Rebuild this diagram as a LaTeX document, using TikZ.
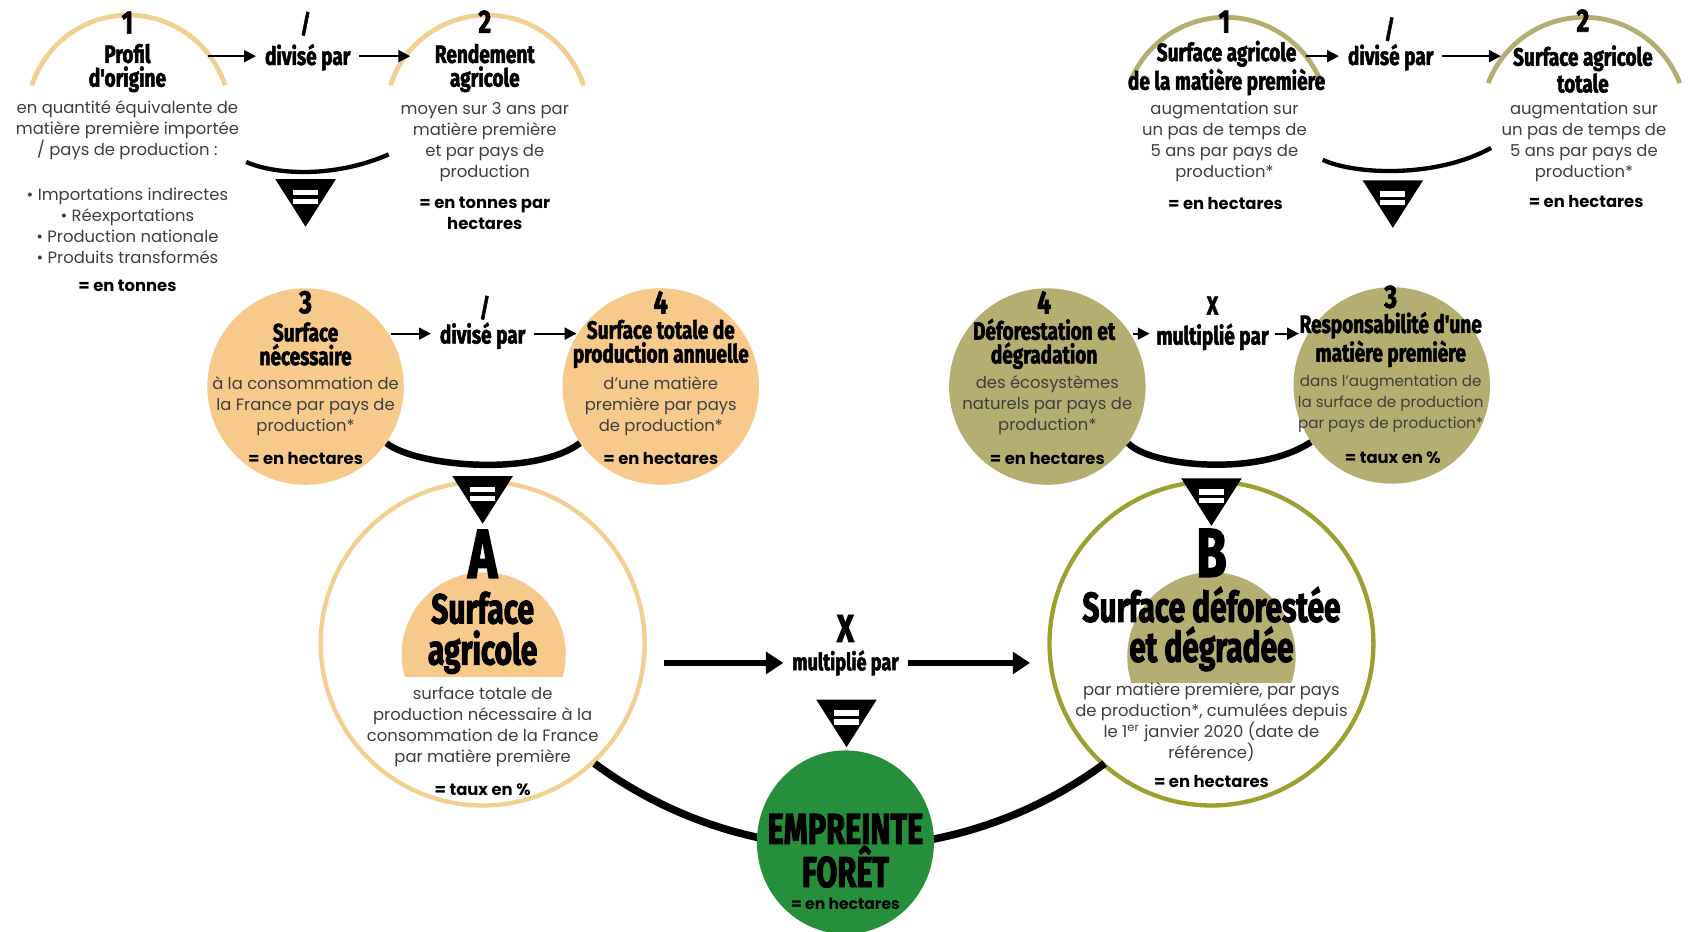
\documentclass[tikz,border=0pt]{standalone}
\usepackage{fontspec}
\setmainfont{Poppins}
\newfontfamily\headfont{Fira Sans}[FakeStretch=0.76, BoldFeatures={FakeBold=2}]
\newfontfamily\bighead{Fira Sans}[FakeStretch=0.71, BoldFeatures={FakeBold=2.2}]
\usetikzlibrary{arrows.meta,shapes.geometric}
\definecolor{sable}{RGB}{243,208,145}
\definecolor{sablefill}{RGB}{247,202,140}
\definecolor{olive}{RGB}{180,174,112}
\definecolor{olivedark}{RGB}{155,160,48}
\definecolor{foret}{RGB}{38,143,60}
\definecolor{gristexte}{RGB}{62,62,62}
\tikzset{
  eqtri/.pic={
    \fill (-28,0) -- (28,0) -- (0,-44) -- cycle;
    \fill[white] (-11.5,-10) rectangle (11.5,-15);
    \fill[white] (-11.5,-18) rectangle (11.5,-23);
  }
}
\begin{document}
\begin{tikzpicture}[x=0.5pt,y=0.5pt,yscale=-1,xscale=1,
  body/.style={font=\fontsize{7.6}{9.75}\selectfont, text=gristexte, align=center, inner sep=0pt},
  unit/.style={font=\bfseries\fontsize{7.6}{9.75}\selectfont, align=center, inner sep=0pt},
  head/.style={font=\headfont\bfseries\fontsize{11.6}{11}\selectfont, align=center, inner sep=0pt},
  num/.style={font=\headfont\bfseries\fontsize{15}{15}\selectfont, inner sep=0pt},
  slash/.style={font=\headfont\bfseries\fontsize{12}{12}\selectfont, inner sep=0pt},
  arr/.style={-{Triangle[length=5.5pt,width=5.5pt]}, line width=1pt},
  bigarr/.style={-{Triangle[length=8pt,width=10pt]}, line width=2.5pt},
  bowl/.style={line width=2pt},
  disc/.style={circle, minimum size=91pt, inner sep=0pt},
  ring/.style={circle, minimum size=150pt, inner sep=0pt, line width=2pt, fill=white}
]
\useasboundingbox (0,0) rectangle (1568,863);

%Shape: Arc
\draw[sable, line width=2.2pt] (119,108) ++(-18:94) arc[start angle=-18, end angle=-162, radius=94];
\draw[sable, line width=2.2pt] (451,108) ++(-18:94) arc[start angle=-18, end angle=-162, radius=94];
\draw[olive, line width=2.2pt] (1135,111) ++(-21:95) arc[start angle=-21, end angle=-159, radius=95];
\draw[olive, line width=2.2pt] (1467,111) ++(-21:95) arc[start angle=-21, end angle=-159, radius=95];

% Text Node
\draw (118,21) node (n1) [num] {1};
\draw (118,63) node (h1) [head] {Profil\\d'origine};
\draw (118,121) node (b1) [body] {en quantité équivalente de\\matière première importée\\/ pays de production :};
\draw (118,209) node (bl) [body] {• Importations indirectes\\• Réexportations\\• Production nationale\\• Produits transformés};
\draw (118,265) node (u1) [unit] {= en tonnes};
\draw (283,22) node (sl1) [slash] {/};
\draw (285,53) node (d1) [head] {divisé par};
\draw (449,20) node (n2) [num] {2};
\draw (449,63) node (h2) [head] {Rendement\\agricole};
\draw (449,131.5) node (b2) [body] {moyen sur 3 ans par\\matière première\\et par pays de\\production};
\draw (449,197.5) node (u2) [unit] {= en tonnes par\\hectares};

\coordinate (p1) at (193,52);
\coordinate (q1) at (380,52);
\draw[arr] (p1) -- (d1.west |- p1) [shorten >=4pt];
\draw[arr] (d1.east |- q1) -- (q1) [shorten <=4pt];

%Shape: Bowl
\coordinate (bw1a) at (228,150);
\coordinate (bw1b) at (360,143);
\draw[bowl] (bw1a) .. controls (255,162) and (310,165) .. (bw1b);
\pic at (283,166) {eqtri};

% Text Node
\draw (1134,20) node (n1r) [num] {1};
\draw (1136,63) node (h1r) [head] {Surface agricole\\de la matière première};
\draw (1134,131.5) node (b1r) [body] {augmentation sur\\un pas de temps de\\5 ans par pays de\\production*};
\draw (1135,188) node (u1r) [unit] {= en hectares};
\draw (1287,27) node (sl2) [slash] {/};
\draw (1288,53) node (d2) [head] {divisé par};
\draw (1466,19) node (n2r) [num] {2};
\draw (1466,64) node (h2r) [head] {Surface agricole\\totale};
\draw (1467,131.5) node (b2r) [body] {augmentation sur\\un pas de temps de\\5 ans par pays de\\production*};
\draw (1469,187) node (u2r) [unit] {= en hectares};

\coordinate (p2) at (1210,52);
\coordinate (q2) at (1390,52);
\draw[arr] (p2) -- (d2.west |- p2) [shorten >=4pt];
\draw[arr] (d2.east |- q2) -- (q2) [shorten <=4pt];

%Shape: Bowl
\coordinate (bw2a) at (1225,148);
\coordinate (bw2b) at (1381,137);
\draw[bowl] (bw2a) .. controls (1255,162) and (1330,165) .. (bw2b);
\pic at (1290,167) {eqtri};

%Shape: Circle
\draw (283,358) node (c3) [disc, fill=sablefill] {};
\draw (612,358) node (c4) [disc, fill=sablefill] {};
\draw (970,358) node (c4r) [disc, fill=olive] {};
\draw (1289,357) node (c3r) [disc, fill=olive] {};

% Text Node
\draw (283,280) node (n3) [num] {3};
\draw (283,318.5) node (h3) [head] {Surface\\nécessaire};
\draw (283,376.5) node (b3) [body] {à la consommation de\\la France par pays de\\production*};
\draw (283,425) node (u3) [unit] {= en hectares};
\draw (449,285) node (sl3) [slash] {/};
\draw (447,311) node (d3) [head] {divisé par};
\draw (612,280) node (n4) [num] {4};
\draw (612,318.5) node (h4) [head] {Surface totale de\\production annuelle};
\draw (612,376.5) node (b4) [body] {d'une matière\\première par pays\\de production*};
\draw (612,425) node (u4) [unit] {= en hectares};

\coordinate (p3) at (362,309);
\coordinate (q3) at (534,309);
\draw[arr] (p3) -- (d3.west |- p3) [shorten >=4pt];
\draw[arr] (d3.east |- q3) -- (q3) [shorten <=4pt];
\draw[line width=3pt] (c3.-35) .. controls (385,432) and (495,442) .. (c4.-145);

% Text Node
\draw (967,280) node (n4r) [num] {4};
\draw (967,318.5) node (h4r) [head] {Déforestation et\\dégradation};
\draw (970,375.5) node (b4r) [body] {des écosystèmes\\naturels par pays de\\production*};
\draw (970,425) node (u4r) [unit] {= en hectares};
\draw (1123,283) node (xm) [slash] {X};
\draw (1123,312) node (m1) [head] {multiplié par};
\draw (1288,275) node (n3r) [num] {3};
\draw (1288,314.5) node (h3r) [head] {Responsabilité d'une\\matière première};
\draw (1288,373.5) node (b3r) [body, font=\fontsize{7}{9.75}\selectfont] {dans l'augmentation de\\la surface de production\\par pays de production*};
\draw (1290,424) node (u3r) [unit] {= taux en \%};

\coordinate (p4) at (1049,309);
\coordinate (q4) at (1203,309);
\draw[arr] (p4) -- (m1.west |- p4) [shorten >=3pt];
\draw[arr] (m1.east |- q4) -- (q4) [shorten <=3pt];
\draw[line width=3pt] (c4r.-35) .. controls (1065,432) and (1165,442) .. (c3r.-145);

%Shape: Big bowl
\draw (447,596) node (cA) [ring, draw=sable] {};
\draw (1122,596) node (cB) [ring, draw=olivedark] {};
\draw[line width=3.5pt] (cA.-47) arc[start angle=126.4, end angle=53.6, radius=398];
\pic at (447,441) {eqtri};
\pic at (1122,443) {eqtri};

%Shape: Dome
\begin{scope}
\clip (360,440) rectangle (540,627);
\fill[sablefill] (448,606) circle[radius=76];
\end{scope}
\begin{scope}
\clip (1030,440) rectangle (1215,632);
\fill[olive] (1122,608) circle[radius=78];
\end{scope}

% Text Node
\draw (447,513) node (nA) [num, font=\bighead\bfseries\fontsize{32}{32}\selectfont] {A};
\draw (447,586) node (hA) [head, font=\bighead\bfseries\fontsize{19.5}{19}\selectfont] {Surface\\agricole};
\draw (447,673.5) node (bA) [body] {surface totale de\\production nécessaire à la\\consommation de la France\\par matière première};
\draw (447,731) node (uA) [unit] {= taux en \%};
\draw (1122,512) node (nB) [num, font=\bighead\bfseries\fontsize{32}{32}\selectfont] {B};
\draw (1122,582.5) node (hB) [head, font=\bighead\bfseries\fontsize{19.5}{18.5}\selectfont] {Surface déforestée\\et dégradée};
\draw (1122,668.5) node (bB) [body] {par matière première, par pays\\de production*, cumulées depuis\\le 1\textsuperscript{er} janvier 2020 (date de\\référence)};
\draw (1122,724) node (uB) [unit] {= en hectares};

% Text Node
\draw (783,582) node (xm2) [num, font=\headfont\bfseries\fontsize{18}{18}\selectfont] {X};
\draw (783,614) node (m2) [head, font=\headfont\bfseries\fontsize{11}{11}\selectfont] {multiplié par};
\draw[bigarr] (cA.east |- m2) ++(16,0) coordinate (p5) -- (m2.west) [shorten >=4pt];
\draw[bigarr] (m2.east) -- (cB.west |- m2) [shorten <=4pt, shorten >=8pt];
\pic at (784,648) {eqtri};

%Shape: Ellipse
\draw (783,780) node (foot) [ellipse, fill=foret, minimum width=82pt, minimum height=85pt, inner sep=0pt] {};
\draw (783,788) node (hF) [head, font=\bighead\bfseries\fontsize{20}{18.5}\selectfont] {EMPREINTE\\FORÊT};
\draw (783,837) node (uF) [unit, font=\bfseries\fontsize{7.2}{9}\selectfont] {= en hectares};
\end{tikzpicture}
\end{document}
